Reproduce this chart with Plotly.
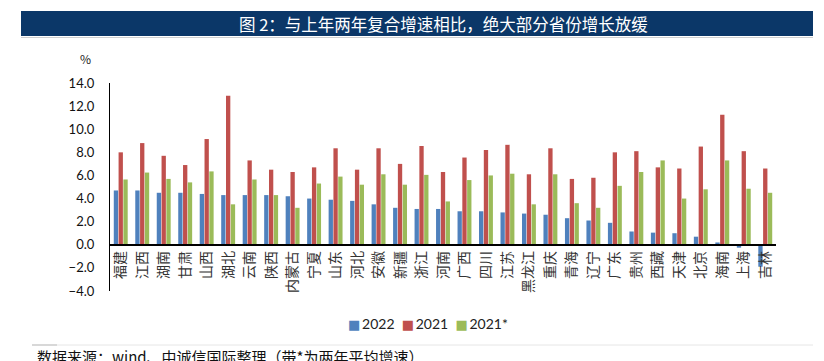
import plotly.graph_objects as go

provinces = ["福建", "江西", "湖南", "甘肃", "山西", "湖北", "云南", "陕西", "内蒙古", "宁夏",
             "山东", "河北", "安徽", "新疆", "浙江", "河南", "广西", "四川", "江苏", "黑龙江",
             "重庆", "青海", "辽宁", "广东", "贵州", "西藏", "天津", "北京", "海南", "上海", "吉林"]
g2022 = [4.7, 4.7, 4.5, 4.5, 4.4, 4.3, 4.3, 4.3, 4.2, 4.0,
         3.9, 3.8, 3.5, 3.2, 3.1, 3.1, 2.9, 2.9, 2.8, 2.7,
         2.6, 2.3, 2.1, 1.9, 1.15, 1.05, 1.0, 0.7, 0.2, -0.25, -1.9]
g2021 = [8.0, 8.8, 7.7, 6.9, 9.15, 12.9, 7.3, 6.5, 6.3, 6.7,
         8.35, 6.5, 8.35, 7.0, 8.55, 6.3, 7.55, 8.2, 8.65, 6.1,
         8.35, 5.7, 5.8, 8.0, 8.1, 6.7, 6.6, 8.5, 11.25, 8.1, 6.6]
g2021avg = [5.65, 6.25, 5.7, 5.4, 6.35, 3.5, 5.65, 4.3, 3.2, 5.3,
            5.9, 5.2, 6.1, 5.2, 6.05, 3.75, 5.6, 6.0, 6.15, 3.5,
            6.1, 3.6, 3.2, 5.1, 6.3, 7.3, 4.0, 4.8, 7.3, 4.85, 4.5]
series_names = ["2022", "2021", "2021*"]
series_colors = ["#4F81BD", "#C0504D", "#9BBB59"]
y_min, y_max = -4, 14

title_text = "图 2：与上年两年复合增速相比，绝大部分省份增长放缓"
source_text = "数据来源：wind、中诚信国际整理（带*为两年平均增速）"

W, H = 824, 361
L, R, T, B = 110, 48, 83, 70
pw, ph = W - L - R, H - T - B


def px_x(x):
    return (x - L) / pw


def px_y(y):
    return (H - B - y) / ph


fig = go.Figure()
for name, vals, col in zip(series_names, [g2022, g2021, g2021avg], series_colors):
    fig.add_trace(go.Bar(x=provinces, y=vals, name=name,
                         marker=dict(color=col, line=dict(width=0))))

fig.update_layout(
    width=W, height=H,
    margin=dict(l=L, r=R, t=T, b=B),
    paper_bgcolor="white", plot_bgcolor="white",
    barmode="group", bargap=0.33, bargroupgap=0.1,
    showlegend=False,
    xaxis=dict(anchor="free", position=(0 - y_min) / (y_max - y_min),
               showline=True, linecolor="black", linewidth=1.5,
               tickangle=-90, ticks="", showgrid=False,
               tickfont=dict(family="Noto Sans CJK SC", size=14, color="#333")),
    yaxis=dict(range=[y_min, y_max], dtick=2, tickformat=".1f",
               showline=True, linecolor="black", linewidth=1.2,
               showgrid=False, zeroline=False, ticks="",
               ticklabelstandoff=12,
               tickfont=dict(family="Lato", size=13, color="#111")),
    font=dict(family="Noto Sans CJK SC"),
)

shapes = [
    dict(type="rect", xref="paper", yref="paper",
         x0=px_x(21), x1=px_x(813), y0=px_y(36), y1=px_y(11),
         fillcolor="#0B3768", line=dict(width=0), layer="below"),
    dict(type="line", xref="paper", yref="paper",
         x0=px_x(21), x1=px_x(813), y0=px_y(37.5), y1=px_y(37.5),
         line=dict(color="#cfcfcf", width=1)),
    dict(type="line", xref="paper", yref="paper",
         x0=px_x(32), x1=px_x(813), y0=px_y(345), y1=px_y(345),
         line=dict(color="#e6e6e6", width=1)),
    dict(type="line", xref="paper", yref="paper",
         x0=px_x(32), x1=px_x(57), y0=px_y(345), y1=px_y(345),
         line=dict(color="#bdbdbd", width=1)),
]
fig.update_layout(shapes=shapes)

fig.add_annotation(text=title_text, xref="paper", yref="paper",
                   x=px_x(443), y=px_y(23.5), xanchor="center", yanchor="middle",
                   showarrow=False,
                   font=dict(family="Noto Sans CJK SC", size=16.5, color="white"))
fig.add_annotation(text="%", xref="paper", yref="paper",
                   x=px_x(85), y=px_y(58), xanchor="center", yanchor="middle",
                   showarrow=False,
                   font=dict(family="Noto Sans CJK SC", size=12, color="#222"))
fig.add_annotation(text=source_text, xref="paper", yref="paper",
                   x=px_x(35), y=px_y(344), xanchor="left", yanchor="top",
                   showarrow=False,
                   font=dict(family="Noto Sans CJK SC", size=15, color="#111"))

# legend built as text from the series names/colours
legend_parts = [
    f"<span style='color:{c};font-family:DejaVu Sans;font-size:13px'>■</span>\u2009{n}"
    for n, c in zip(series_names, series_colors)
]
fig.add_annotation(text="\u00a0\u00a0".join(legend_parts), xref="paper", yref="paper",
                   x=px_x(428), y=px_y(323), xanchor="center", yanchor="middle",
                   showarrow=False,
                   font=dict(family="Lato", size=14, color="#222"))

fig.write_html("out.html", config={"displayModeBar": False},
               post_script="document.body.style.margin='0px';document.body.style.overflow='hidden';")
